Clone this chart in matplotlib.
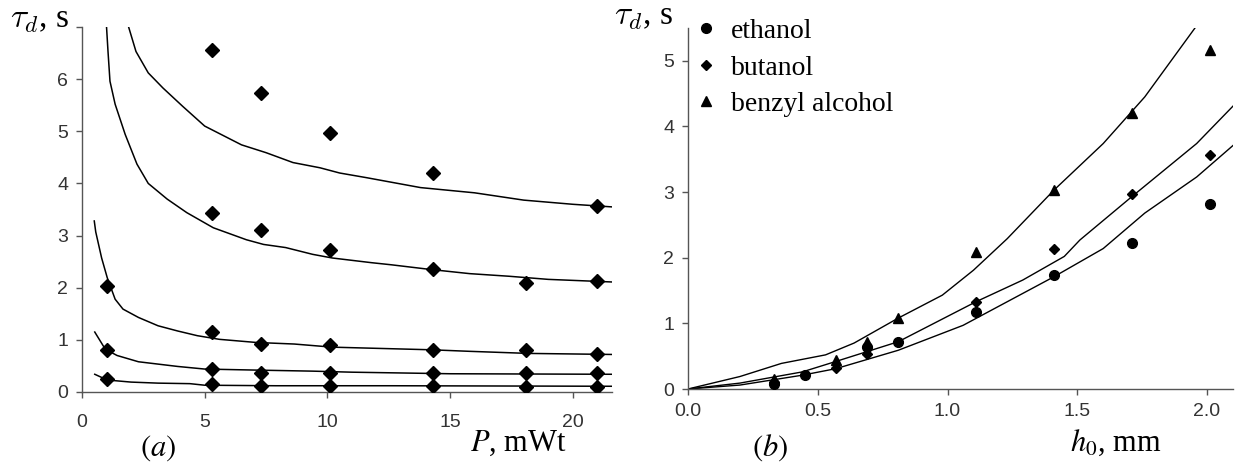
import matplotlib
matplotlib.use("Agg")
import matplotlib.pyplot as plt

# ---- panel (a): tau_d vs P ----
p_pts = [1.0, 5.3, 7.3, 10.1, 14.3, 18.1, 21.0]
s1_x = [5.3, 7.3, 10.1, 14.3, 21.0]
s1_y = [6.55, 5.73, 4.97, 4.2, 3.56]
s2_x = [5.3, 7.3, 10.1, 14.3, 18.1, 21.0]
s2_y = [3.44, 3.1, 2.72, 2.36, 2.1, 2.13]
s3_y = [2.03, 1.16, 0.92, 0.9, 0.8, 0.8, 0.72]
s4_y = [0.8, 0.44, 0.36, 0.37, 0.36, 0.36, 0.36]
s5_y = [0.25, 0.16, 0.12, 0.11, 0.11, 0.09, 0.09]

c1_x = [1.9, 2.2, 2.7, 3.3, 4.1, 5.0, 6.5, 7.5, 8.6, 9.7, 10.5, 11.6, 13.8, 16.0, 18.0, 20.0, 21.6]
c1_y = [7.0, 6.53, 6.12, 5.83, 5.48, 5.1, 4.74, 4.59, 4.4, 4.3, 4.2, 4.11, 3.92, 3.82, 3.68, 3.6, 3.55]
c2_x = [1.0, 1.06, 1.14, 1.35, 1.76, 2.24, 2.7, 3.47, 4.27, 5.35, 6.7, 7.4, 8.3, 9.4, 10.2, 11.8,
        12.6, 14.2, 15.8, 17.4, 19.0, 21.6]
c2_y = [7.0, 6.53, 5.96, 5.52, 4.94, 4.37, 4.0, 3.7, 3.44, 3.15, 2.92, 2.83, 2.77, 2.64, 2.57, 2.48,
        2.44, 2.35, 2.27, 2.22, 2.16, 2.11]
c3_x = [0.5, 0.56, 0.8, 1.03, 1.35, 1.67, 2.3, 3.1, 3.9, 4.7, 5.6, 7.1, 8.65, 10.2, 11.8, 14.2,
        15.8, 18.2, 21.6]
c3_y = [3.28, 3.07, 2.57, 2.19, 1.78, 1.59, 1.43, 1.27, 1.17, 1.08, 1.01, 0.95, 0.92, 0.86, 0.84,
        0.81, 0.78, 0.74, 0.72]
c4_x = [0.52, 0.95, 1.43, 2.3, 3.9, 5.0, 7.1, 9.4, 11.0, 15.0, 21.6]
c4_y = [1.15, 0.82, 0.70, 0.58, 0.49, 0.44, 0.42, 0.40, 0.38, 0.35, 0.34]
c5_x = [0.52, 1.03, 2.0, 3.1, 4.4, 5.0, 7.9, 12.6, 21.6]
c5_y = [0.34, 0.23, 0.19, 0.17, 0.16, 0.13, 0.12, 0.12, 0.11]

# ---- panel (b): tau_d vs h0 ----
eth_x = [0.33, 0.45, 0.69, 0.81, 1.11, 1.41, 1.71, 2.01]
eth_y = [0.08, 0.21, 0.64, 0.72, 1.18, 1.73, 2.22, 2.82]
but_x = [0.33, 0.57, 0.69, 0.81, 1.11, 1.41, 1.71, 2.01]
but_y = [0.10, 0.32, 0.53, 0.72, 1.33, 2.14, 2.97, 3.57]
ben_x = [0.33, 0.57, 0.69, 0.81, 1.11, 1.41, 1.71, 2.01]
ben_y = [0.15, 0.44, 0.72, 1.08, 2.08, 3.03, 4.2, 5.17]

ben_cx = [0.0, 0.2, 0.36, 0.53, 0.64, 0.81, 0.98, 1.1, 1.23, 1.41, 1.6, 1.76, 1.97]
ben_cy = [0.0, 0.19, 0.39, 0.52, 0.70, 1.08, 1.43, 1.81, 2.29, 3.03, 3.74, 4.45, 5.59]
but_cx = [0.0, 0.2, 0.44, 0.57, 0.81, 1.11, 1.29, 1.45, 1.51, 1.71, 1.96, 2.1]
but_cy = [0.0, 0.09, 0.26, 0.42, 0.72, 1.33, 1.66, 2.02, 2.27, 2.93, 3.74, 4.31]
eth_cx = [0.0, 0.2, 0.44, 0.57, 0.81, 1.06, 1.41, 1.6, 1.76, 1.96, 2.1]
eth_cy = [0.0, 0.06, 0.21, 0.31, 0.59, 0.97, 1.71, 2.14, 2.68, 3.23, 3.71]

W, H = 1252, 471
fig = plt.figure(figsize=(W / 100, H / 100), dpi=100)
axa = fig.add_axes([82 / W, (H - 392) / H, (612 - 82) / W, (392 - 27) / H])
axb = fig.add_axes([688 / W, (H - 389) / H, (1233 - 688) / W, (389 - 28) / H])

spine_col = "#555555"


def style(ax):
    for s in ["top", "right"]:
        ax.spines[s].set_visible(False)
    for s in ["left", "bottom"]:
        ax.spines[s].set_color(spine_col)
        ax.spines[s].set_linewidth(1.0)
    ax.tick_params(direction="out", length=4, width=1, color=spine_col, labelcolor="#333333",
                   labelsize=14, pad=6)
    for lab in ax.get_xticklabels() + ax.get_yticklabels():
        lab.set_family("Liberation Sans")


mk = dict(ls="none", color="black", ms=7, zorder=3)

# panel a
for cx, cy in [(c1_x, c1_y), (c2_x, c2_y), (c3_x, c3_y), (c4_x, c4_y), (c5_x, c5_y)]:
    axa.plot(cx, cy, color="black", lw=1.1)
axa.plot(s1_x, s1_y, marker="D", **mk)
axa.plot(s2_x, s2_y, marker="D", **mk)
for sy in [s3_y, s4_y, s5_y]:
    axa.plot(p_pts, sy, marker="D", **mk)
axa.set_xlim(0, 21.6)
axa.set_ylim(0, 7)
axa.set_xticks([0, 5, 10, 15, 20])
axa.set_yticks([0, 1, 2, 3, 4, 5, 6, 7])
axa.set_yticklabels(["0", "1", "2", "3", "4", "5", "6", ""])
style(axa)
axa.tick_params(axis="x", pad=12)

# panel b
axb.plot(ben_cx, ben_cy, color="black", lw=1.0)
axb.plot(but_cx, but_cy, color="black", lw=1.0)
axb.plot(eth_cx, eth_cy, color="black", lw=1.0)
axb.plot(eth_x, eth_y, marker="o", label="ethanol", **mk)
axb.plot(but_x, but_y, marker="D", label="butanol", ls="none", color="black", ms=5.5, zorder=3)
axb.plot(ben_x, ben_y, marker="^", label="benzyl alcohol", **mk)
axb.set_xlim(0, 2.1)
axb.set_ylim(0, 5.5)
axb.set_xticks([0.0, 0.5, 1.0, 1.5, 2.0])
axb.set_xticklabels(["0.0", "0.5", "1.0", "1.5", "2.0"])
axb.set_yticks([0, 1, 2, 3, 4, 5])
style(axb)
axb.tick_params(axis="x", pad=6)

leg = fig.legend(loc="upper left", bbox_to_anchor=(678 / W, 1.0 - 2 / H), frameon=False,
                 prop={"family": "Liberation Serif", "size": 20}, handlelength=0.8,
                 handletextpad=0.5, labelspacing=0.4, borderpad=0.1)

# labels
fig.text(10 / W, 1 - 20 / H, r"$\tau_d$, s", family="Liberation Serif", size=24,
         math_fontfamily="cm", va="center", ha="left")
fig.text(614 / W, 1 - 17 / H, r"$\tau_d$, s", family="Liberation Serif", size=24,
         math_fontfamily="cm", va="center", ha="left")
fig.text(140 / W, 1 - 448 / H, r"$($$a$$)$", family="Liberation Serif", size=22,
         math_fontfamily="stix", va="center", ha="left")
fig.text(752 / W, 1 - 448 / H, r"$($$b$$)$", family="Liberation Serif", size=22,
         math_fontfamily="stix", va="center", ha="left")
fig.text(470 / W, 1 - 443 / H, r"$P$, mWt", family="Liberation Serif", size=22,
         math_fontfamily="stix", va="center", ha="left")
fig.text(1070 / W, 1 - 443 / H, r"$h_0$, mm", family="Liberation Serif", size=22,
         math_fontfamily="stix", va="center", ha="left")

fig.savefig("out.png", dpi=100)
